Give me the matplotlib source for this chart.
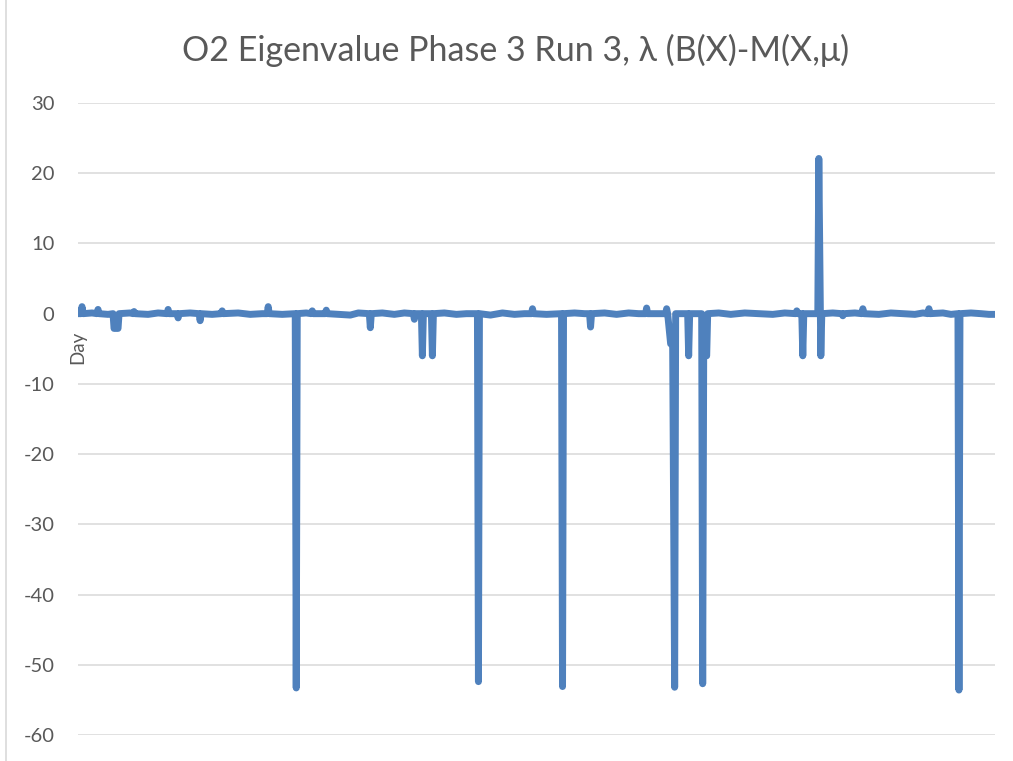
import matplotlib.pyplot as plt
from matplotlib.lines import Line2D

# day index and eigenvalue
day = [0, 1.5, 2, 2.5, 7, 9.5, 10, 10.5, 15, 17.5, 18, 20, 20.5, 26, 27.5, 28, 28.5,
       35, 40, 44.5, 45, 45.5, 49.5, 50, 50.5, 56, 60.5, 61, 61.5, 67, 71.5, 72, 72.5,
       80, 86, 92, 94.5, 95, 95.5, 102, 108.5, 109, 109.5, 114, 116.5, 117, 117.5,
       123.5, 124, 124.5, 130, 136, 140, 145.5, 146, 146.5, 152, 158, 163, 167.5, 168,
       168.5, 171.5, 172, 172.5, 176.5, 177, 177.5, 183, 189, 194, 199.5, 200, 200.5,
       206, 212, 218, 223, 226.5, 227, 227.5, 234, 241.5, 242, 242.5, 248, 253, 255.5,
       256, 256.5, 263, 269, 275, 280, 283.5, 284, 284.5, 291, 293.5, 294, 294.5, 296,
       297, 298, 298.5, 304.5, 305, 305.5, 311.5, 312, 312.5, 314, 314.5, 320, 326,
       333, 340, 347, 353, 358.5, 359, 359.5, 361.5, 362, 362.5, 369.5, 370, 371,
       371.5, 377, 381.5, 382, 382.5, 388, 391.5, 392, 392.5, 400, 406, 412, 418, 422,
       424.5, 425, 425.5, 432, 436, 439.5, 440, 440.5, 446, 451, 455, 458]
eigen = [0.0, 0.0, 1.0, 0.0, 0.1, 0.0, 0.6, 0.0, -0.1, 0.0, -2.1, -2.1, 0.0, 0.1, 0.0,
         0.3, 0.0, -0.1, 0.1, 0.0, 0.6, 0.0, 0.0, -0.6, 0.0, 0.1, 0.0, -1.0, 0.0, -0.1,
         0.0, 0.4, 0.0, 0.1, -0.1, 0.0, 0.0, 1.0, 0.0, -0.1, 0.0, -53.3, 0.0, 0.1, 0.0,
         0.4, 0.0, 0.0, 0.5, 0.0, -0.1, -0.2, 0.1, 0.0, -2.0, 0.0, 0.1, -0.1, 0.1, 0.0,
         -0.8, 0.0, 0.0, -6.0, 0.0, 0.0, -6.0, 0.0, 0.1, -0.1, 0.0, 0.0, -52.4, 0.0,
         -0.2, 0.1, -0.1, 0.0, 0.0, 0.7, 0.0, -0.1, 0.0, -53.1, 0.0, 0.1, 0.0, 0.0,
         -1.9, 0.0, 0.1, -0.1, 0.1, 0.0, 0.0, 0.8, 0.0, 0.0, 0.0, 0.7, 0.0, -4.3, -4.3,
         -53.2, 0.0, 0.0, -6.0, 0.0, 0.0, -52.7, -6.0, -6.0, 0.0, 0.1, -0.1, 0.1, 0.0,
         -0.1, 0.1, 0.0, 0.4, 0.0, 0.0, -6.0, 0.0, 0.0, 22.1, -6.0, 0.0, 0.1, 0.0, -0.3,
         0.0, 0.1, 0.0, 0.7, 0.0, -0.1, 0.1, 0.0, -0.1, 0.1, 0.0, 0.7, 0.0, 0.1, -0.1,
         0.0, -53.6, 0.0, 0.1, 0.0, -0.1, -0.1]
yticks = [30, 20, 10, 0, -10, -20, -30, -40, -50, -60]

W, H = 1013, 761
fig = plt.figure(figsize=(W / 100, H / 100), dpi=100)
ax = fig.add_axes([78 / W, 26 / H, (995 - 78) / W, (735 - 103) / H])

ax.plot(day, eigen, color='#4F81BD', lw=5, solid_joinstyle='round',
        solid_capstyle='round', zorder=3)

ax.set_xlim(0, 458)
ax.set_ylim(-60, 30)
ax.set_yticks(yticks)
ax.set_yticklabels([str(t) for t in yticks], fontsize=14.5, color='#595959',
                   family='Lato')
ax.set_xticks([])
ax.tick_params(axis='y', length=0, pad=17)
ax.grid(axis='y', color='#D9D9D9', lw=1.1)
ax.set_axisbelow(True)
for s in ax.spines.values():
    s.set_visible(False)

fig.text(516 / W, 1 - 50 / H, 'O2 Eigenvalue Phase 3 Run 3, λ (B(X)-M(X,μ)',
         ha='center', va='center', fontsize=24.5, color='#595959',
         family='Lato')
fig.text(78 / W, 1 - 347 / H, 'Day', rotation=90, ha='center', va='center',
         fontsize=13.5, color='#595959', family='Lato')

# chart border on the left
fig.add_artist(Line2D([6 / W, 6 / W], [0, 1], transform=fig.transFigure,
                      color='#D9D9D9', lw=1.2))

fig.savefig('out.png', dpi=100)
